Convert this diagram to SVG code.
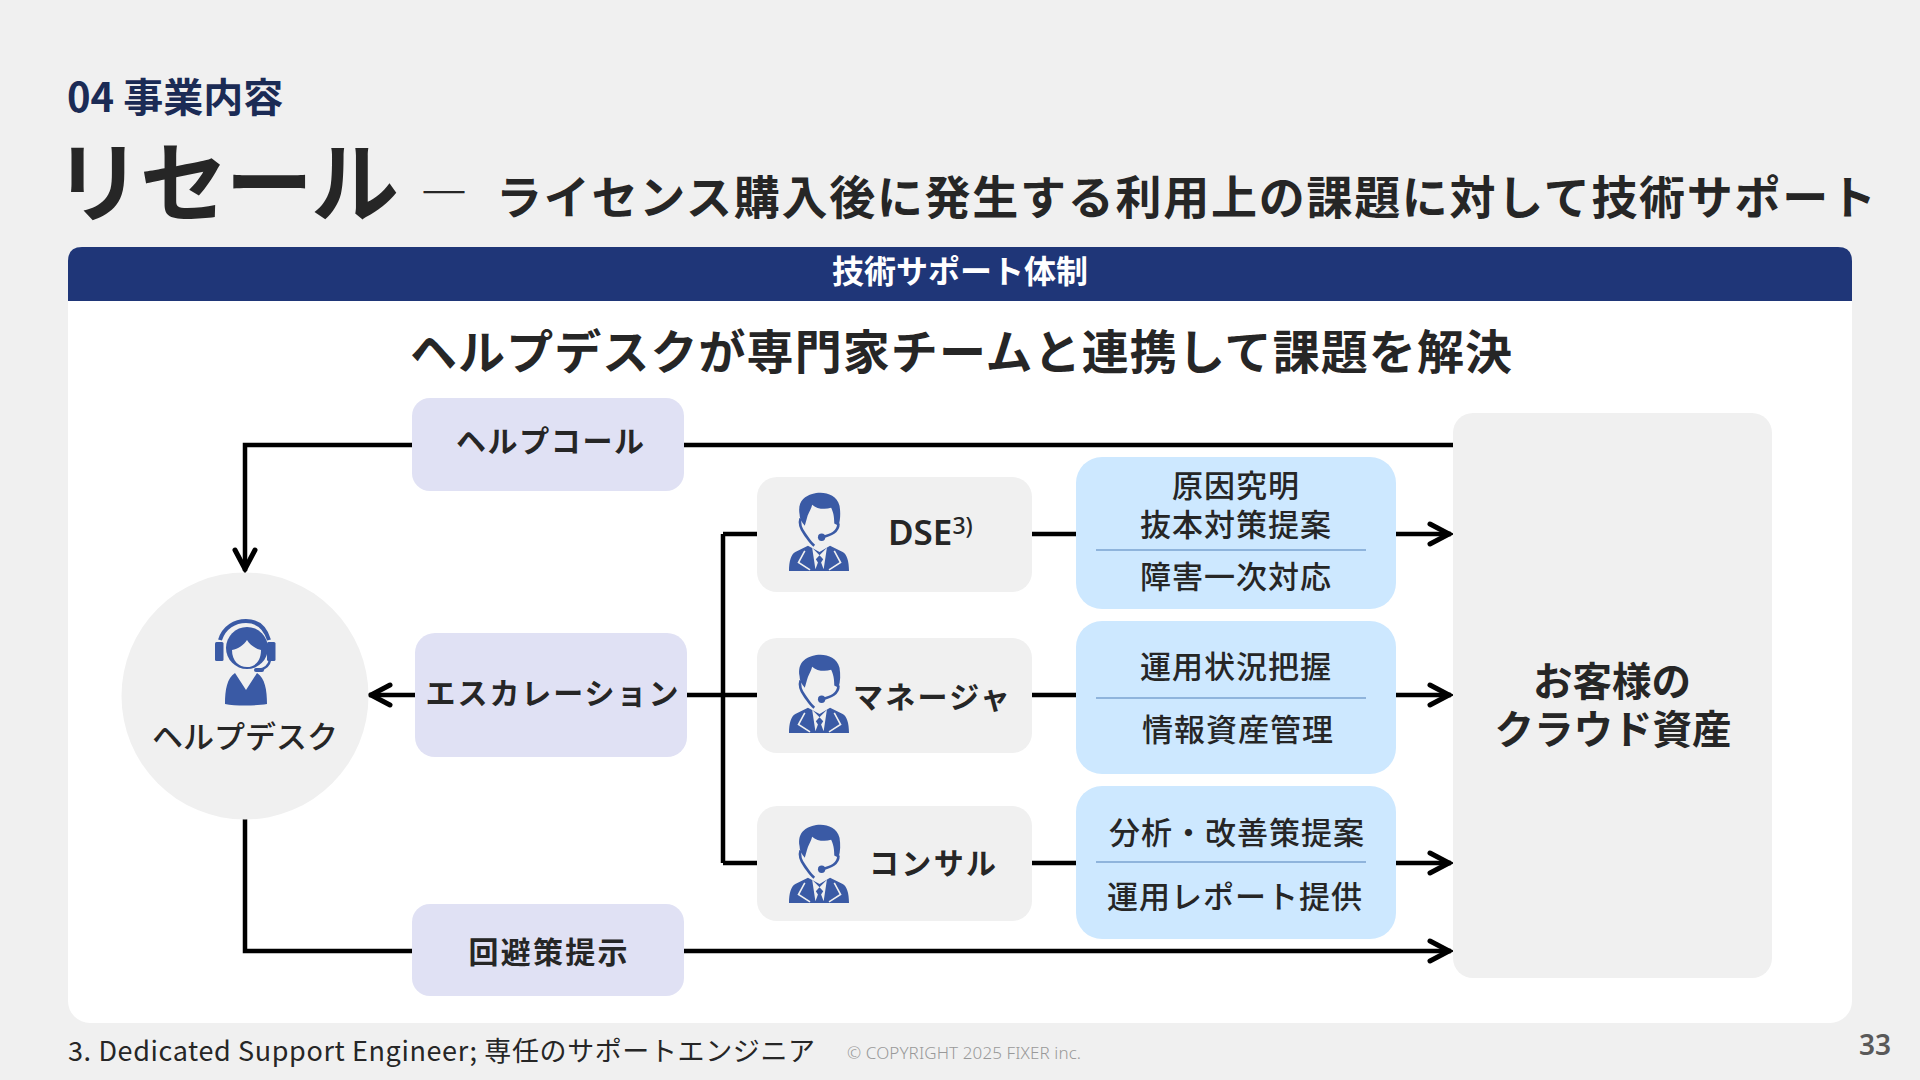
<svg xmlns="http://www.w3.org/2000/svg" width="1920" height="1080" viewBox="0 0 1920 1080">
<style>
text{font-family:"Noto Sans CJK JP","Noto Sans",sans-serif;fill:#262626}
.b{font-weight:700}.m{font-weight:500}.c{text-anchor:middle}
.l{fill:none;stroke:#000;stroke-width:4.500}
.sep{stroke:#8fb4dc;stroke-width:2}
.t28{font-size:31px;font-weight:500;letter-spacing:1px}
.n{font-size:30px;font-weight:700}
</style>
<defs>
<marker id="a" viewBox="0 0 30 30" markerWidth="30" markerHeight="30" refX="26" refY="15" orient="auto" markerUnits="userSpaceOnUse"><path d="M5 5L24 15L5 25" fill="none" stroke="#000" stroke-width="5" stroke-linecap="round" stroke-linejoin="miter"/></marker>
<symbol id="man" viewBox="0 0 57 74" overflow="visible">
<path d="M10 20C8 8 15 3 22 1C31 -2 45 0 48 12C49 18 49 25 47 31L43 29C43 22 42 18 40 14C34 16 26 15 22 11C21 16 18 19 17 24L15 31C12 28 10 24 10 20Z" fill="#3a5aa5"/>
<path d="M11 24C9 30 12 35 15 39C18 43 20 47 24 50" fill="none" stroke="#3a5aa5" stroke-width="2.500"/>
<path d="M47 29C47 37 40 40 31 42" fill="none" stroke="#3a5aa5" stroke-width="2.500"/>
<circle cx="31" cy="42" r="3.500" fill="#3a5aa5"/>
<path d="M18 50L6 56C2 58 0 65 0 74H57C57 65 55 58 51 56L39 50L29 56Z" fill="#3a5aa5"/>
<path d="M22 52L25 72H33L36 52L29 59Z" fill="#f0f0f0"/>
<path d="M29 59L25.500 63L27.500 66L24.500 74H33.500L30.500 66L32.500 63Z" fill="#3a5aa5"/>
<path d="M15 55L9 66L20 73M43 55L49 66L38 73" fill="none" stroke="#f0f0f0" stroke-width="1.500"/>
</symbol>
<symbol id="woman" viewBox="0 0 61 85" overflow="visible">
<path d="M5 20C9 7 20 1 31 1C42 1 50 7 54 20" fill="none" stroke="#3a5aa5" stroke-width="4"/>
<rect x="0" y="22" width="8.500" height="19" rx="1.500" fill="#3a5aa5"/><rect x="52" y="22" width="8.500" height="19" rx="1.500" fill="#3a5aa5"/>
<circle cx="32" cy="28" r="21" fill="#3a5aa5"/>
<path d="M17 30C23 29 29 25 32 20C35 25 41 29 46 30C46 41 40 47 32 47C24 47 17 41 17 30Z" fill="#f0f0f0"/>
<path d="M55 40C54 46 49 49 44 50" fill="none" stroke="#3a5aa5" stroke-width="2.500"/><rect x="39" y="48" width="10" height="4" rx="2" fill="#3a5aa5"/>
<path d="M20 53L31 70L42 53C50 58 52 70 52 84C40 86 20 86 10 84C10 70 12 58 20 53Z" fill="#3a5aa5"/>
</symbol>
</defs>
<rect width="1920" height="1080" fill="#f0f0f0"/>
<g id="titles">
<text x="67" y="112" font-size="40" class="b" style="fill:#1b2b55">04 事業内容</text>
<text x="54" y="215" font-size="88" class="b" textLength="345">リセール</text>
<text x="420" y="210" font-size="48" class="m">―</text>
<text x="496" y="214" font-size="46" class="b" textLength="1380">ライセンス購入後に発生する利用上の課題に対して技術サポート</text>
</g>
<g id="panel">
<rect x="68" y="247" width="1784" height="776" rx="22" fill="#fff"/>
<path d="M68 301V261Q68 247 82 247H1838Q1852 247 1852 261V301Z" fill="#1f3678"/>
<text x="960" y="283" font-size="32" class="b c"><tspan style="fill:#fff">技術サポート体制</tspan></text>
<text x="961" y="369" font-size="47" class="b c" textLength="1102">ヘルプデスクが専門家チームと連携して課題を解決</text>
</g>
<g id="connectors">
<path class="l" d="M1453 445H245V571" marker-end="url(#a)"/>
<path class="l" d="M415 695H369" marker-end="url(#a)"/>
<path class="l" d="M687 695H757M723 534V863M723 534H757M723 863H757"/>
<path class="l" d="M1032 534H1076M1032 695H1076M1032 863H1076"/>
<path class="l" d="M1395 534H1451" marker-end="url(#a)"/>
<path class="l" d="M1395 695H1451" marker-end="url(#a)"/>
<path class="l" d="M1395 863H1451" marker-end="url(#a)"/>
<path class="l" d="M245 819V951H1451" marker-end="url(#a)"/>
</g>
<g id="helpdesk">
<circle cx="245" cy="696" r="123.500" fill="#f0f0f0"/>
<use href="#woman" x="215" y="620" width="61" height="85"/>
<text x="245" y="748" font-size="31" class="m c" textLength="186">ヘルプデスク</text>
</g>
<g id="helpcall"><rect x="412" y="398" width="272" height="93" rx="18" fill="#e0e1f4"/>
<text x="550" y="452" class="n c" textLength="188">ヘルプコール</text></g>
<g id="escalation"><rect x="415" y="633" width="272" height="124" rx="20" fill="#e0e1f4"/>
<text x="552" y="704" class="n c" textLength="253">エスカレーション</text></g>
<g id="workaround"><rect x="412" y="904" width="272" height="92" rx="18" fill="#e0e1f4"/>
<text x="548" y="963" class="n c" textLength="159">回避策提示</text></g>
<g id="dse"><rect x="757" y="477" width="275" height="115" rx="20" fill="#f0f0f0"/>
<use href="#man" x="789" y="493" width="60" height="78"/>
<text x="888" y="545" font-size="35" font-weight="600" style="font-family:'Noto Sans',sans-serif">DSE<tspan font-size="23" dy="-11" font-weight="500">3)</tspan></text></g>
<g id="manager"><rect x="757" y="638" width="275" height="115" rx="20" fill="#f0f0f0"/>
<use href="#man" x="789" y="655" width="60" height="78"/>
<text x="853" y="708" class="n" textLength="157">マネージャ</text></g>
<g id="consul"><rect x="757" y="806" width="275" height="115" rx="20" fill="#f0f0f0"/>
<use href="#man" x="789" y="825" width="60" height="78"/>
<text x="869" y="874" class="n" textLength="127">コンサル</text></g>
<g id="t1"><rect x="1076" y="457" width="320" height="152" rx="26" fill="#cde8ff"/>
<text x="1236" y="497" class="t28 c">原因究明</text>
<text x="1236" y="536" class="t28 c">抜本対策提案</text>
<line class="sep" x1="1096" x2="1366" y1="550" y2="550"/>
<text x="1236" y="588" class="t28 c">障害一次対応</text></g>
<g id="t2"><rect x="1076" y="621" width="320" height="153" rx="26" fill="#cde8ff"/>
<text x="1236" y="678" class="t28 c">運用状況把握</text>
<line class="sep" x1="1096" x2="1366" y1="698" y2="698"/>
<text x="1238" y="741" class="t28 c">情報資産管理</text></g>
<g id="t3"><rect x="1076" y="786" width="320" height="153" rx="26" fill="#cde8ff"/>
<text x="1237" y="844" class="t28 c">分析・改善策提案</text>
<line class="sep" x1="1096" x2="1366" y1="862" y2="862"/>
<text x="1235" y="908" class="t28 c">運用レポート提供</text></g>
<g id="customer"><rect x="1453" y="413" width="319" height="565" rx="20" fill="#f0f0f0"/>
<text x="1612" y="696" font-size="39.500" class="b c">お客様の</text>
<text x="1613" y="744" font-size="39.500" class="b c">クラウド資産</text></g>
<g id="footer">
<text x="68" y="1061" font-size="27" font-weight="400" textLength="747">3. Dedicated Support Engineer; 専任のサポートエンジニア</text>
<text x="847" y="1059" font-size="17" font-weight="300" style="fill:#999;font-family:'Noto Sans',sans-serif" textLength="234">© COPYRIGHT 2025 FIXER inc.</text>
<text x="1875" y="1055" font-size="28" font-weight="600" class="c" style="fill:#595959;font-family:'Noto Sans',sans-serif">33</text>
</g>
</svg>
